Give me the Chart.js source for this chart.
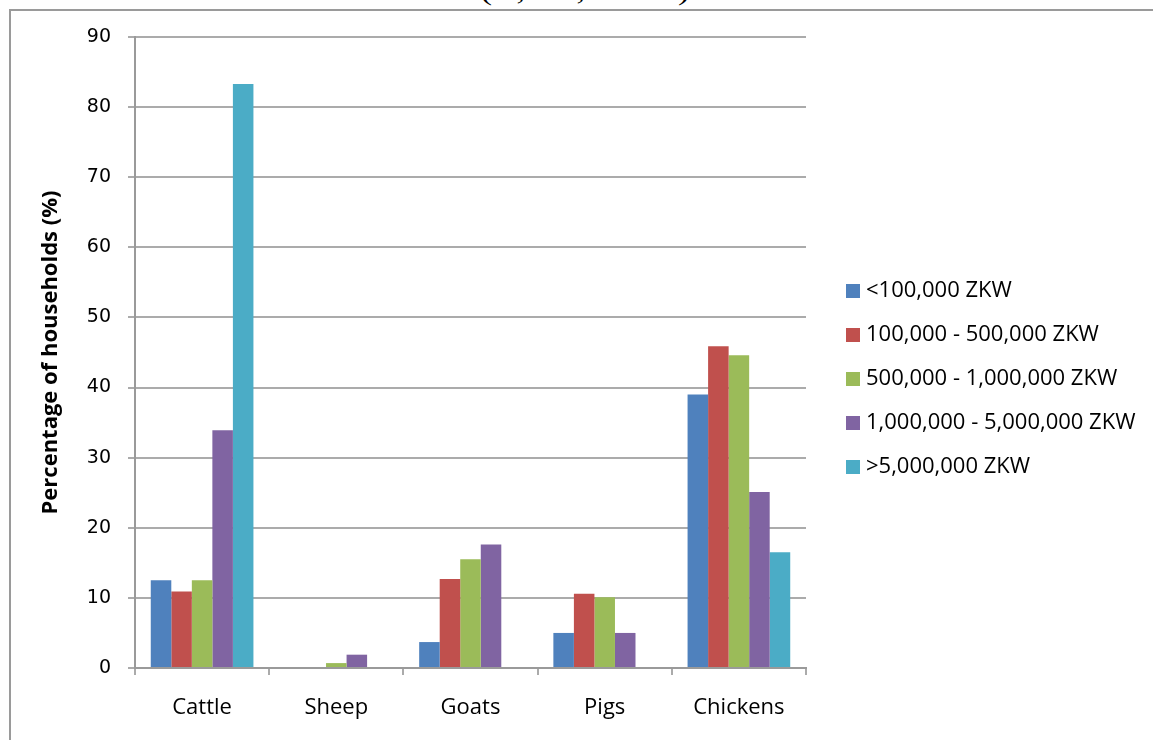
<!DOCTYPE html>
<html>
<head>
<meta charset="utf-8">
<title>Percentage of households keeping livestock by income group</title>
<script src="https://cdn.jsdelivr.net/npm/chart.js@4"></script>
<style>
  html, body { margin: 0; padding: 0; background: #ffffff; }
  #page { position: relative; width: 1153px; height: 740px; overflow: hidden; background: #ffffff; }
  #frame { position: absolute; left: 9px; top: 9px; width: 1200px; height: 800px;
           border-left: 2px solid #9a9a9a; border-top: 2px solid #9a9a9a; }
  #heading { position: absolute; left: 585px; top: -23px; transform: translateX(-50%) scaleX(1.3);
             font: 26px/30px "Liberation Serif", serif; color: #000; white-space: nowrap; }
  #chart { position: absolute; left: 0; top: 0; }
</style>
</head>
<body>
<div id="page">
  <div id="frame"></div>
  <div id="heading">(N, XS, C6-10)</div>
  <canvas id="chart" width="1153" height="740"></canvas>
</div>
<script>
// Livestock categories along the x axis
const categories = ['Cattle', 'Sheep', 'Goats', 'Pigs', 'Chickens'];

// Household income groups (legend entries)
const incomeGroups = [
  '<100,000 ZKW',
  '100,000 - 500,000 ZKW',
  '500,000 - 1,000,000 ZKW',
  '1,000,000 - 5,000,000 ZKW',
  '>5,000,000 ZKW'
];

// Percentage of households keeping each kind of livestock, per income group
const under100k   = [12.5, 0,   3.7,  5.0,  39.0];
const from100k    = [10.9, 0,   12.7, 10.6, 45.9];
const from500k    = [12.5, 0.7, 15.5, 10.1, 44.6];
const from1m      = [33.9, 1.9, 17.6, 5.0,  25.1];
const over5m      = [83.3, 0,   0,    0,    16.5];

// Value axis range
const yMin = 0;
const yMax = 90;
const yStep = 10;

const seriesValues = [under100k, from100k, from500k, from1m, over5m];
const seriesColors = ['#4f81bd', '#c0504d', '#9bbb59', '#8064a2', '#4bacc6'];

const axisGray = '#9a9a9a';
const gridGray = '#ababab';
const legendFont = { family: "'Open Sans', sans-serif", size: 22 };

// Legend rows are 44px apart; the swatch column starts 40px right of the plot
const legendRow = 44;
const legendPad = legendRow - legendFont.size;
const plotRight = 806;
const legendGap = 45 - legendPad;

// Work out how much room the legend needs so the plot keeps its right edge
const measureCtx = document.createElement('canvas').getContext('2d');
measureCtx.font = legendFont.size + 'px ' + legendFont.family;
const widestLegendText = Math.max(...incomeGroups.map(t => measureCtx.measureText(t).width));
const legendWidth = legendPad + 4 + legendFont.size / 2 + widestLegendText + 10;
const rightPadding = Math.max(0, 1153 - plotRight - legendGap - legendWidth);

new Chart(document.getElementById('chart'), {
  type: 'bar',
  data: {
    labels: categories,
    datasets: seriesValues.map((values, i) => ({
      label: incomeGroups[i],
      data: values,
      backgroundColor: seriesColors[i],
      borderWidth: 0,
      categoryPercentage: 0.765,
      barPercentage: 1.0
    }))
  },
  options: {
    responsive: false,
    animation: false,
    layout: { padding: { left: 34, top: 37, bottom: 19, right: rightPadding } },
    plugins: {
      tooltip: { enabled: false },
      title: { display: false },
      legend: {
        position: 'right',
        align: 'center',
        maxWidth: 600,
        labels: {
          usePointStyle: true,
          pointStyle: 'rect',
          boxWidth: 4,
          boxHeight: 14,
          padding: legendPad,
          color: '#000000',
          font: legendFont
        }
      }
    },
    scales: {
      x: {
        grid: { display: true, drawOnChartArea: false, drawTicks: true, tickLength: 7,
                color: gridGray, lineWidth: 2, offset: true },
        border: { display: true, color: axisGray, width: 2 },
        ticks: { color: '#000000', padding: 20,
                 font: { family: "'Open Sans', sans-serif", size: 22 } },
        afterFit: (scale) => { scale.height = 53; }
      },
      y: {
        min: yMin,
        max: yMax,
        ticks: { stepSize: yStep, color: '#000000', padding: 17,
                 font: { family: "'DejaVu Sans', sans-serif", size: 19 } },
        grid: { color: gridGray, lineWidth: 2, tickLength: 7 },
        border: { display: true, color: axisGray, width: 2 },
        title: { display: true, text: 'Percentage of households (%)', color: '#000000',
                 font: { family: "'Open Sans', sans-serif", size: 22, weight: 'bold' } },
        afterFit: (scale) => { scale.width = 101; }
      },
      gap: {
        position: 'right',
        display: true,
        grid: { display: false },
        border: { display: false },
        ticks: { display: false },
        afterFit: (scale) => { scale.width = legendGap; }
      }
    }
  }
});
</script>
</body>
</html>
